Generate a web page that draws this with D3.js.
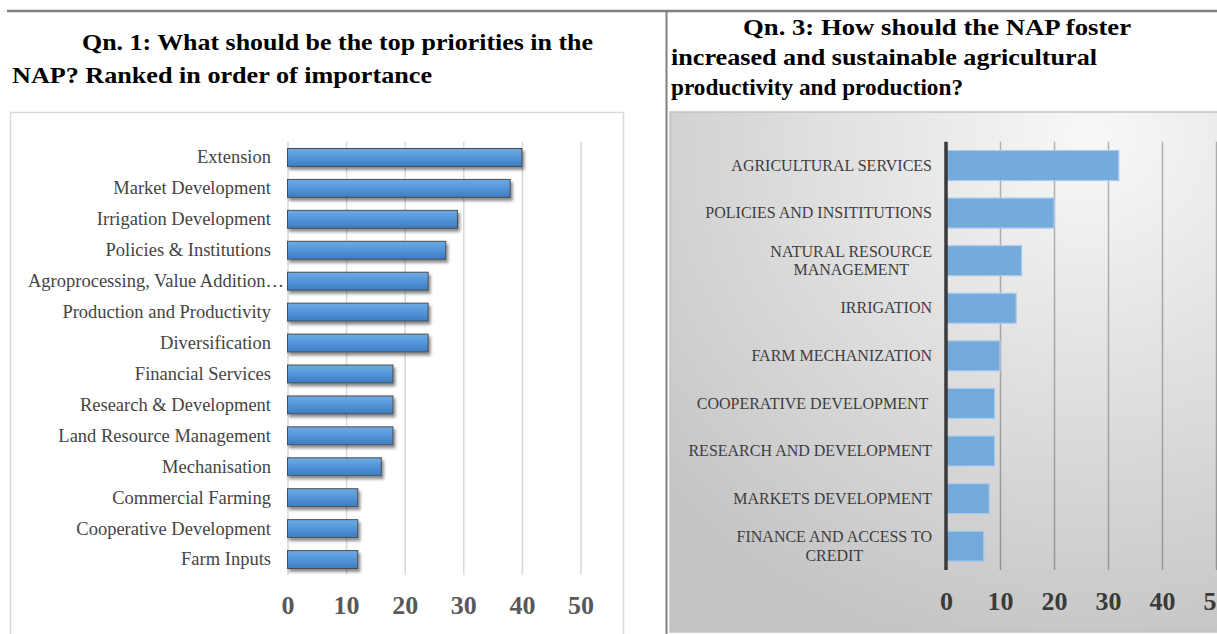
<!DOCTYPE html>
<html>
<head>
<meta charset="utf-8">
<script src="https://cdn.jsdelivr.net/npm/d3@7"></script>
<style>
  html, body { margin: 0; padding: 0; background: #fff; overflow: hidden; }
  svg { display: block; }
  text { font-family: "Liberation Serif", "Times New Roman", serif; }
</style>
</head>
<body>
<svg id="chart" width="1217" height="634"></svg>
<script>
// ---- Qn. 1: top priorities in the NAP ----
const q1Title = ["Qn. 1: What should be the top priorities in the",
                 "NAP? Ranked in order of importance"];
const q1Categories = ["Extension", "Market Development", "Irrigation Development",
  "Policies & Institutions", "Agroprocessing, Value Addition…", "Production and Productivity",
  "Diversification", "Financial Services", "Research & Development", "Land Resource Management",
  "Mechanisation", "Commercial Farming", "Cooperative Development", "Farm Inputs"];
const q1Values = [40, 38, 29, 27, 24, 24, 24, 18, 18, 18, 16, 12, 12, 12];
const q1Ticks = [0, 10, 20, 30, 40, 50];

// ---- Qn. 3: fostering agricultural productivity and production ----
const q3Title = ["Qn. 3: How should the NAP foster",
                 "increased and sustainable agricultural",
                 "productivity and production?"];
const q3Categories = ["AGRICULTURAL SERVICES", "POLICIES AND INSITITUTIONS",
  "NATURAL RESOURCE\nMANAGEMENT", "IRRIGATION", "FARM MECHANIZATION",
  "COOPERATIVE DEVELOPMENT ", "RESEARCH AND DEVELOPMENT", "MARKETS DEVELOPMENT",
  "FINANCE AND ACCESS TO\nCREDIT"];
const q3Values = [32, 20, 14, 13, 10, 9, 9, 8, 7];
const q3Ticks = [0, 10, 20, 30, 40, 50];

const svg = d3.select("#chart");
const defs = svg.append("defs");

// bevelled blue fill + soft shadow for the Qn. 1 bars
const barGrad = defs.append("linearGradient").attr("id", "barGrad")
  .attr("x1", 0).attr("y1", 0).attr("x2", 0).attr("y2", 1);
barGrad.append("stop").attr("offset", "0%").attr("stop-color", "#6fabe3");
barGrad.append("stop").attr("offset", "45%").attr("stop-color", "#5598da");
barGrad.append("stop").attr("offset", "100%").attr("stop-color", "#3c7cc2");

const shadow = defs.append("filter").attr("id", "barShadow")
  .attr("x", "-10%").attr("y", "-40%").attr("width", "130%").attr("height", "200%");
shadow.append("feDropShadow").attr("dx", 2).attr("dy", 3).attr("stdDeviation", 1.8)
  .attr("flood-color", "#000").attr("flood-opacity", 0.45);

// grey wash behind the Qn. 3 chart
const bgGrad = defs.append("radialGradient").attr("id", "bgGrad")
  .attr("cx", 0.75).attr("cy", 0.05).attr("r", 1.0);
bgGrad.append("stop").attr("offset", "0%").attr("stop-color", "#f8f8f8");
bgGrad.append("stop").attr("offset", "100%").attr("stop-color", "#c5c5c5");

// ---- page frame ----
svg.append("line").attr("x1", 7).attr("x2", 1217).attr("y1", 11).attr("y2", 11)
  .attr("stroke", "#808080").attr("stroke-width", 2.5);
svg.append("line").attr("x1", 666.5).attr("x2", 666.5).attr("y1", 11).attr("y2", 634)
  .attr("stroke", "#808080").attr("stroke-width", 2);

// ---- titles ----
function drawTitle(lines, xs, ys, widths) {
  svg.append("g").selectAll("text").data(lines).join("text")
    .attr("x", (d, i) => xs[i]).attr("y", (d, i) => ys[i])
    .attr("textLength", (d, i) => widths[i]).attr("lengthAdjust", "spacingAndGlyphs")
    .attr("font-size", 23).attr("font-weight", "bold").attr("fill", "#000")
    .text(d => d);
}
drawTitle(q1Title, [82, 12], [50, 83], [511, 420]);
drawTitle(q3Title, [743, 671, 671], [35, 65, 95], [388, 426, 292]);

// ================= Qn. 1 chart =================
svg.append("rect").attr("x", 10.5).attr("y", 112.5).attr("width", 613).attr("height", 560)
  .attr("fill", "#fff").attr("stroke", "#d9d9d9").attr("stroke-width", 1.5);

const p1 = { left: 287.5, right: 580.5, top: 142, bottom: 575 };
const x1 = d3.scaleLinear().domain([0, 50]).range([p1.left, p1.right]);
const y1 = d3.scaleBand().domain(q1Categories).range([p1.top, p1.bottom])
  .paddingInner(0.42).paddingOuter(0.21);

const g1Axis = svg.append("g").attr("transform", `translate(0,${p1.bottom})`)
  .call(d3.axisBottom(x1).tickValues(q1Ticks).tickSize(-(p1.bottom - p1.top)).tickFormat(d3.format("d")));
g1Axis.select(".domain").remove();
g1Axis.selectAll(".tick line").attr("stroke", "#d9d9d9").attr("stroke-width", 1.5);
g1Axis.selectAll(".tick text").attr("dy", null).attr("y", 39)
  .attr("font-size", 26).attr("font-weight", "bold").attr("fill", "#595959")
  .attr("font-family", "Liberation Serif");

svg.append("g").selectAll("rect").data(q1Values).join("rect")
  .attr("x", x1(0))
  .attr("y", (d, i) => y1(q1Categories[i]))
  .attr("width", d => x1(d) - x1(0))
  .attr("height", y1.bandwidth())
  .attr("fill", "url(#barGrad)")
  .attr("stroke", "#4d4d4d").attr("stroke-width", 1)
  .attr("filter", "url(#barShadow)");

const g1Cat = svg.append("g").attr("transform", `translate(${p1.left},0)`)
  .call(d3.axisLeft(y1).tickSize(0).tickPadding(16.5));
g1Cat.select(".domain").remove();
g1Cat.selectAll(".tick text")
  .attr("font-size", 18.5).attr("fill", "#444").attr("font-family", "Liberation Serif")
  .each(function () {
    // labels too long for the space run from the frame edge instead
    const len = this.getComputedTextLength();
    const leftLimit = 28 - p1.left;
    if (-16.5 - len < leftLimit) {
      d3.select(this).attr("text-anchor", "start").attr("x", leftLimit);
    }
  });

// ================= Qn. 3 chart =================
svg.append("rect").attr("x", 670).attr("y", 112).attr("width", 560).attr("height", 520)
  .attr("fill", "url(#bgGrad)").attr("stroke", "#c2c2c2").attr("stroke-width", 1.5);

const p3 = { left: 946, right: 1216, top: 141.7, bottom: 570 };
const x3 = d3.scaleLinear().domain([0, 50]).range([p3.left, p3.right]);
const y3 = d3.scaleBand().domain(q3Categories).range([p3.top, p3.bottom])
  .paddingInner(0.37).paddingOuter(0.185);

const g3Axis = svg.append("g").attr("transform", `translate(0,${p3.bottom})`)
  .call(d3.axisBottom(x3).tickValues(q3Ticks).tickSize(-(p3.bottom - p3.top)).tickFormat(d3.format("d")));
g3Axis.select(".domain").remove();
g3Axis.selectAll(".tick line").attr("stroke", "rgba(0,0,0,0.27)").attr("stroke-width", 1.5)
  .filter(d => d === 0).remove();
g3Axis.selectAll(".tick text").attr("dy", null).attr("y", 39.5)
  .attr("font-size", 26).attr("font-weight", "bold").attr("fill", "#3a3a3a")
  .attr("font-family", "Liberation Serif");

svg.append("g").selectAll("rect").data(q3Values).join("rect")
  .attr("x", x3(0))
  .attr("y", (d, i) => y3(q3Categories[i]))
  .attr("width", d => x3(d) - x3(0))
  .attr("height", y3.bandwidth())
  .attr("fill", "#6fa7db").attr("fill-opacity", 0.97)
  .attr("stroke", "#a9ccee").attr("stroke-width", 1.2);

// category axis with its dark baseline
svg.append("line").attr("x1", x3(0)).attr("x2", x3(0)).attr("y1", p3.top).attr("y2", p3.bottom)
  .attr("stroke", "#3a3a3a").attr("stroke-width", 3.5);

const g3Cat = svg.append("g").attr("transform", `translate(${p3.left},0)`)
  .call(d3.axisLeft(y3).tickSize(0).tickPadding(14));
g3Cat.select(".domain").remove();
g3Cat.selectAll(".tick text")
  .attr("font-size", 16).attr("fill", "#3d3d3d").attr("font-family", "Liberation Serif")
  .attr("xml:space", "preserve")
  .each(function (d) {
    const lines = d.split("\n");
    if (lines.length < 2) return;
    const t = d3.select(this).text(null).attr("dy", null);
    // measure each line, then centre them inside a right-aligned block
    const widths = lines.map(l => {
      const tmp = t.append("tspan").text(l);
      const w = tmp.node().getComputedTextLength();
      tmp.remove();
      return w;
    });
    const blockW = d3.max(widths);
    const lh = 18.5;
    t.attr("text-anchor", "middle");
    lines.forEach((l, i) => {
      t.append("tspan").attr("x", -14 - blockW / 2)
        .attr("y", (i - (lines.length - 1) / 2) * lh)
        .attr("dy", "0.32em").text(l);
    });
  });
</script>
</body>
</html>
